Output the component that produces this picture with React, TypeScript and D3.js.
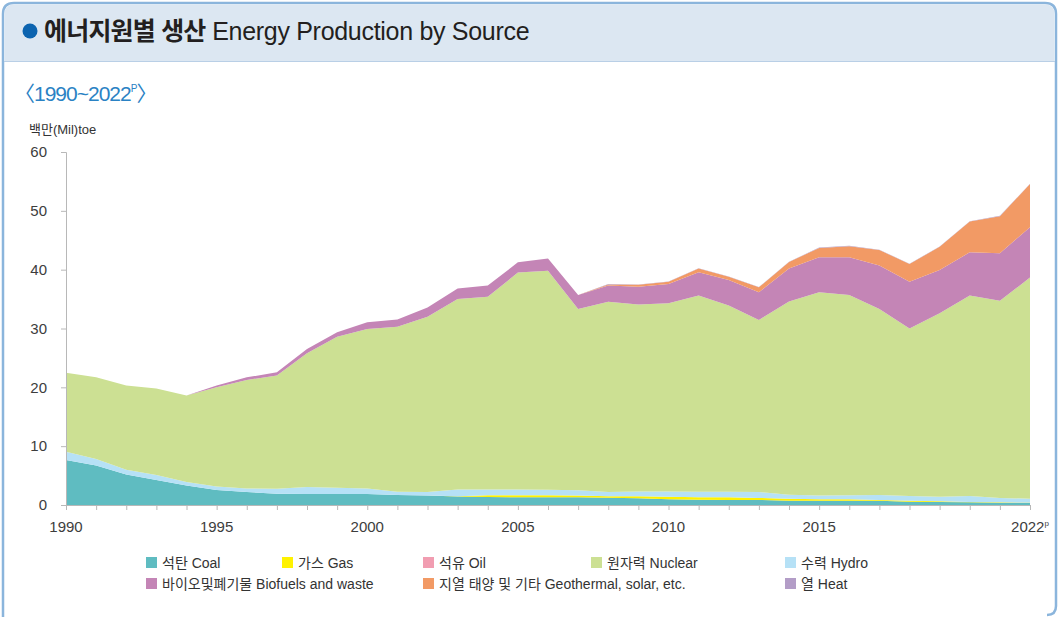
import React, { useEffect, useRef } from "react";
import * as d3 from "d3";

const years = d3.range(1990, 2023);

// Mtoe by source
const coal = [7.65, 6.7, 5.2, 4.25, 3.3, 2.55, 2.2, 1.9, 1.87, 1.87, 1.85, 1.72, 1.6, 1.45, 1.36, 1.3, 1.3, 1.3, 1.25, 1.13, 0.97, 0.9, 0.87, 0.85, 0.73, 0.73, 0.73, 0.72, 0.56, 0.5, 0.45, 0.4, 0.4];
const gas = [0, 0, 0, 0, 0, 0, 0, 0, 0, 0, 0, 0, 0, 0.05, 0.29, 0.35, 0.35, 0.3, 0.25, 0.37, 0.43, 0.4, 0.43, 0.35, 0.34, 0.24, 0.24, 0.13, 0.17, 0.12, 0.05, 0.05, 0.02];
const oil = [0, 0, 0, 0, 0, 0, 0, 0, 0, 0, 0, 0, 0, 0, 0, 0, 0, 0, 0, 0, 0, 0, 0, 0, 0, 0, 0, 0, 0, 0, 0, 0, 0];
const hydro = [1.42, 1.1, 0.8, 0.85, 0.6, 0.6, 0.6, 0.85, 1.2, 1.05, 0.95, 0.55, 0.6, 1.15, 1.0, 1.0, 0.95, 0.9, 0.7, 0.8, 0.9, 0.95, 0.95, 1.0, 0.68, 0.63, 0.68, 0.85, 0.8, 0.79, 1.03, 0.75, 0.65];
const nuclear = [13.43, 13.9, 14.3, 14.7, 14.7, 16.85, 18.45, 19.25, 22.73, 25.68, 27.1, 28.03, 29.8, 32.35, 32.75, 36.85, 37.2, 30.8, 32.35, 31.8, 32.0, 33.35, 31.65, 29.25, 32.85, 34.55, 34.05, 31.6, 28.47, 31.19, 34.07, 33.5, 37.58];
const biofuels = [0, 0, 0, 0, 0, 0.3, 0.45, 0.55, 0.7, 0.75, 1.15, 1.25, 1.55, 1.8, 1.9, 1.75, 2.1, 2.4, 2.75, 3.0, 3.25, 3.95, 4.35, 4.7, 5.6, 5.95, 6.4, 7.4, 7.95, 7.35, 7.35, 8.1, 8.55];
const geothermal = [0, 0, 0, 0, 0, 0, 0, 0, 0, 0, 0, 0, 0, 0, 0, 0, 0, 0, 0.2, 0.35, 0.4, 0.65, 0.55, 0.85, 1.1, 1.6, 1.9, 2.65, 3.0, 3.95, 5.25, 6.3, 7.35];
const heat = [0, 0, 0, 0, 0, 0, 0, 0, 0, 0, 0, 0, 0, 0, 0, 0, 0, 0, 0.05, 0.05, 0.05, 0.05, 0.05, 0.05, 0.05, 0.05, 0.05, 0.05, 0.05, 0.05, 0.05, 0.05, 0.05];

const yTicks = [0, 10, 20, 30, 40, 50, 60];
const xLabels = [1990, 1995, 2000, 2005, 2010, 2015, 2022];

// stacking order (bottom to top)
const stackKeys = ["coal", "gas", "oil", "hydro", "nuclear", "biofuels", "geothermal", "heat"];
const seriesValues: Record<string, number[]> = { coal, gas, oil, hydro, nuclear, biofuels, geothermal, heat };

const colors: Record<string, string> = {
  coal: "#5fbcc1",
  gas: "#fff200",
  oil: "#f19db1",
  nuclear: "#cce093",
  hydro: "#b6e1f6",
  biofuels: "#c485b6",
  geothermal: "#f29a65",
  heat: "#b39dc7",
};

// legend order as printed
const legendRows = [
  [["coal", "석탄 Coal"], ["gas", "가스 Gas"], ["oil", "석유 Oil"], ["nuclear", "원자력 Nuclear"], ["hydro", "수력 Hydro"]],
  [["biofuels", "바이오및폐기물 Biofuels and waste"], ["geothermal", "지열 태양 및 기타 Geothermal, solar, etc."], ["heat", "열 Heat"]],
];
const legendX = [[146, 282, 423, 591, 785], [146, 423, 785]];

const FONT = "'Liberation Sans', 'Noto Sans CJK KR', sans-serif";

const Chart: React.FC = () => {
  const ref = useRef<SVGGElement | null>(null);
  const width = 1059;
  const height = 617;

  useEffect(() => {
    const svg = d3.select(ref.current);
    svg.selectAll("*").remove();

    const x = d3.scaleLinear().domain([1990, 2022]).range([66, 1030]);
    const y = d3.scaleLinear().domain([0, 60]).range([505, 152]);

    const table = years.map((yr, i) => {
      const row: Record<string, number> = { year: yr };
      stackKeys.forEach((k) => (row[k] = seriesValues[k][i]));
      return row;
    });

    const stacked = d3.stack<Record<string, number>>().keys(stackKeys)(table);

    const area = d3
      .area<d3.SeriesPoint<Record<string, number>>>()
      .x((d) => x(d.data.year))
      .y0((d) => y(d[0]))
      .y1((d) => y(d[1]));

    svg
      .append("g")
      .selectAll("path")
      .data(stacked)
      .join("path")
      .attr("fill", (d) => colors[d.key])
      .attr("d", area as any);

    // axes
    const axisColor = "#b8b8b8";
    const yAxis = svg
      .append("g")
      .attr("transform", "translate(66,0)")
      .call(d3.axisLeft(y).tickValues(yTicks).tickSize(5).tickPadding(14));
    yAxis.select(".domain").attr("stroke", axisColor);
    yAxis.selectAll(".tick line").attr("stroke", axisColor);
    yAxis
      .selectAll(".tick text")
      .attr("fill", "#3d3d3d")
      .attr("font-size", 15)
      .attr("font-family", FONT);

    const xAxis = svg
      .append("g")
      .attr("transform", "translate(0,505)")
      .call(
        d3
          .axisBottom(x)
          .tickValues(years)
          .tickSize(5)
          .tickSizeOuter(0)
          .tickFormat(() => "")
      );
    xAxis.select(".domain").attr("stroke", axisColor);
    xAxis.selectAll(".tick line").attr("stroke", axisColor);

    const xl = svg
      .append("g")
      .selectAll("text")
      .data(xLabels)
      .join("text")
      .attr("x", (d) => x(d))
      .attr("y", 532)
      .attr("text-anchor", "middle")
      .attr("fill", "#3d3d3d")
      .attr("font-size", 15)
      .attr("font-family", FONT)
      .text((d) => String(d));
    xl.filter((d) => d === 2022)
      .append("tspan")
      .attr("font-size", 8)
      .attr("dy", -6)
      .text("p");

    // legend
    legendRows.forEach((row, ri) => {
      row.forEach(([key, label], ci) => {
        const lx = legendX[ri][ci];
        const ly = 557 + ri * 21;
        svg
          .append("rect")
          .attr("x", lx)
          .attr("y", ly)
          .attr("width", 11)
          .attr("height", 11)
          .attr("fill", colors[key]);
        svg
          .append("text")
          .attr("x", lx + 16)
          .attr("y", ly + 11)
          .attr("fill", "#333")
          .attr("font-size", 14)
          .attr("font-family", FONT)
          .text(label);
      });
    });
  }, []);

  return (
    <svg
      width={width}
      height={height}
      style={{ position: "absolute", left: 0, top: 0, background: "#fff" }}
    >
      <path
        d="M3,617 L3,14 Q3,3 14,3 L1045,3 Q1056,3 1056,14 L1056,606 Q1056,615 1047,615"
        fill="none"
        stroke="#8bb5dc"
        strokeWidth={2.5}
      />
      <path d="M4.5,61 L4.5,14 Q4.5,4.5 14,4.5 L1045,4.5 Q1054.5,4.5 1054.5,14 L1054.5,61 Z" fill="#dce7f2" />
      <line x1={4} x2={1055} y1={61.5} y2={61.5} stroke="#b9cfe6" strokeWidth={1} />
      <circle cx={30} cy={31} r={7.5} fill="#0c64b0" />
      <text x={44} y={40} fontSize={25} fill="#231f20" fontFamily={FONT}>
        <tspan fontWeight={700} letterSpacing={-0.8}>에너지원별 생산</tspan>
        <tspan letterSpacing={-0.3}> Energy Production by Source</tspan>
      </text>
      <text x={14} y={101} fontSize={21} fill="#2a82c4" fontFamily={FONT} letterSpacing={-1}>
        〈1990~2022<tspan fontSize={10} dy={-9}>P</tspan>
        <tspan dy={9}>〉</tspan>
      </text>
      <text x={29} y={134} fontSize={13} fill="#333" fontFamily={FONT}>
        백만(Mil)toe
      </text>
      <g ref={ref} />
    </svg>
  );
};

export default function App() {
  return <Chart />;
}
